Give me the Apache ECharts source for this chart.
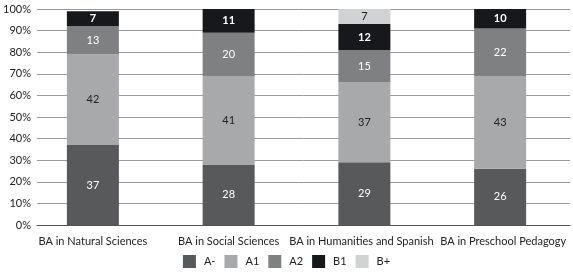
<!DOCTYPE html>
<html>
<head>
<meta charset="utf-8">
<script src="https://cdn.jsdelivr.net/npm/echarts@6/dist/echarts.min.js"></script>
<style>
html,body{margin:0;padding:0;background:#fff;}
#chart{width:573px;height:275px;}
</style>
</head>
<body>
<div id="chart"></div>
<script>
var categories = ['BA in Natural Sciences', 'BA in Social Sciences', 'BA in Humanities and Spanish', 'BA in Preschool Pedagogy'];
var levels = ['A-', 'A1', 'A2', 'B1', 'B+'];
var aMinus = [37, 28, 29, 26];
var a1 = [42, 41, 37, 43];
var a2 = [13, 20, 15, 22];
var b1 = [7, 11, 12, 10];
var bPlus = [null, null, 7, null];
var yTicks = [0, 10, 20, 30, 40, 50, 60, 70, 80, 90, 100];

var colors = ['#58595b', '#a7a9ab', '#7e8082', '#16181b', '#d1d2d3'];
var labelColors = ['#fff', '#222', '#fff', '#fff', '#222'];
var values = [aMinus, a1, a2, b1, bPlus];

var font = 'Lato, "Open Sans", sans-serif';

var series = levels.map(function(name, i){
    return {
        name: name,
        type: 'bar',
        stack: 'total',
        xAxisIndex: 1,
        yAxisIndex: 1,
        barWidth: 52,
        data: values[i],
        itemStyle: {color: colors[i]},
        label: {
            show: true,
            position: 'inside',
            color: labelColors[i],
            fontFamily: font,
            fontSize: 11,
            fontWeight: i == 3 ? 'bold' : 'normal'
        }
    }
})

// nudge the last two labels apart a bit
var catPadding = [[0,0,0,0], [0,0,0,0], [0,6,0,0], [0,0,0,6]];
var axisData = categories.map(function(c, i){
    return {value: c, textStyle: {padding: catPadding[i]}};
})

var myChart = echarts.init(document.getElementById('chart'));
var option = {
    animation: false,
    textStyle: {fontFamily: font},
    grid: [
        {left: 35, right: 3, top: 9, bottom: 50},
        {left: 25, right: 5, top: 9, bottom: 50}
    ],
    legend: {
        bottom: 2,
        left: 'center',
        itemWidth: 13,
        itemHeight: 13,
        itemGap: 9,
        icon: 'rect',
        data: levels,
        textStyle: {fontFamily: font, fontSize: 11, color: '#222', padding: [0,0,0,3]}
    },
    xAxis: [
        {
            type: 'category',
            gridIndex: 0,
            data: categories,
            axisLine: {show: true, lineStyle: {color: '#555', width: 1}},
            axisTick: {show: false},
            axisLabel: {show: false}
        },
        {
            type: 'category',
            gridIndex: 1,
            data: axisData,
            axisLine: {show: false},
            axisTick: {show: false},
            axisLabel: {
                margin: 11,
                fontFamily: font,
                fontSize: 11,
                color: '#222',
                interval: 0
            }
        }
    ],
    yAxis: [
        {
            type: 'value',
            gridIndex: 0,
            min: 0,
            max: 100,
            interval: 10,
            axisLine: {show: false},
            axisTick: {show: false},
            axisLabel: {
                margin: 6,
                fontFamily: font,
                fontSize: 11,
                color: '#222',
                formatter: function(v){ return yTicks.indexOf(v) >= 0 ? v + '%' : ''; }
            },
            splitLine: {lineStyle: {color: '#9a9a9a', width: 1}}
        },
        {
            type: 'value',
            gridIndex: 1,
            min: 0,
            max: 100,
            show: false,
            splitLine: {show: false}
        }
    ],
    series: series
};
myChart.setOption(option);
</script>
</body>
</html>
